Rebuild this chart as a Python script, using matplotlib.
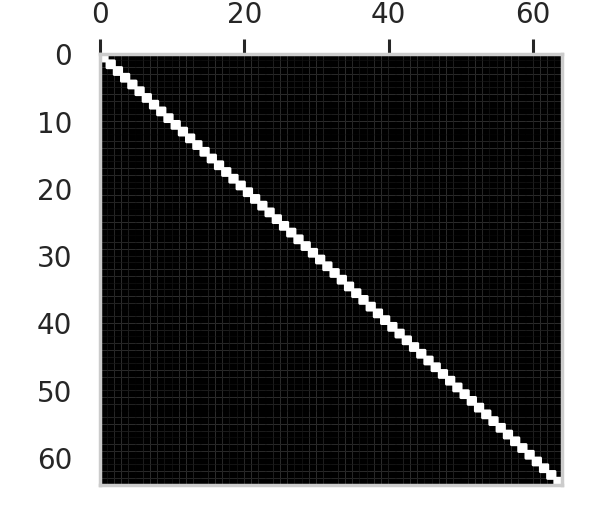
import numpy as np
import matplotlib
matplotlib.use("Agg")
import matplotlib.pyplot as plt

# 64x64 matrix: ones on the diagonal, zeros elsewhere
matrix_size = 64
diagonal_values = [1.0] * matrix_size
x_ticks = [0, 20, 40, 60]
y_ticks = [0, 10, 20, 30, 40, 50, 60]

matrix = np.diag(diagonal_values)

fig = plt.figure(figsize=(5.98, 5.21), dpi=100)
ax = fig.add_axes([0.167, 0.069, 0.773, 0.827])

# base layer: faint seams between cells like the original render
ax.pcolor(matrix, cmap="gray", vmin=0, vmax=1, antialiased=True,
          edgecolors="face", linewidth=0.12)
# bright cells again, a bit bolder so the diagonal reads as a solid band
bright = np.ma.masked_where(matrix < 0.5, matrix)
ax.pcolor(bright, cmap="gray", vmin=0, vmax=1, edgecolors="white",
          linewidth=2.2, antialiased=True)

ax.set_xlim(0, matrix_size)
ax.set_ylim(matrix_size, 0)

ax.xaxis.tick_top()
ax.set_xticks(x_ticks)
ax.set_yticks(y_ticks)
ax.tick_params(axis="x", length=11, width=2.2, color="#262626", labelsize=20,
               labelcolor="#262626", pad=7)
ax.tick_params(axis="y", length=0, labelsize=20, labelcolor="#262626", pad=20)

for spine in ax.spines.values():
    spine.set_color("#cccccc")
    spine.set_linewidth(2.5)
    spine.set_zorder(3)

fig.savefig("out.png", dpi=100)
